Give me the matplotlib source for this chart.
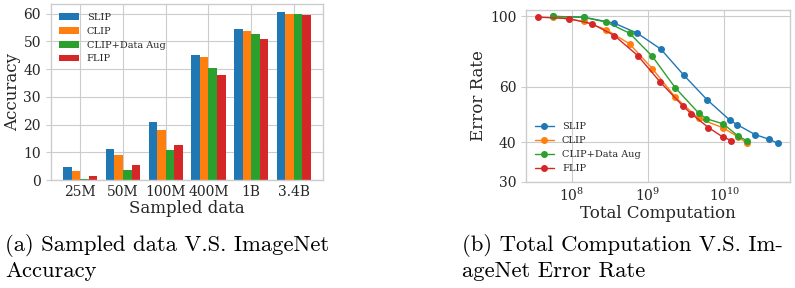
import matplotlib
matplotlib.use("Agg")
import matplotlib.pyplot as plt
import numpy as np
from matplotlib.ticker import FixedLocator, NullLocator, ScalarFormatter

# bar chart data (sampled data vs accuracy)
sizes = ["25M", "50M", "100M", "400M", "1B", "3.4B"]
acc_slip = [4.8, 11.3, 21.0, 45.0, 54.4, 60.5]
acc_clip = [3.4, 9.1, 18.1, 44.3, 53.7, 60.1]
acc_clip_aug = [0.5, 3.7, 10.9, 40.4, 52.6, 59.8]
acc_flip = [1.6, 5.3, 12.8, 37.8, 50.8, 59.4]

# compute vs error rate
slip_x = [5.7e7, 1.42e8, 3.6e8, 7.2e8, 1.47e9, 2.94e9, 5.9e9, 1.18e10, 1.47e10, 2.53e10, 3.85e10, 5.06e10]
slip_y = [100.0, 99.5, 95.2, 88.5, 78.8, 65.2, 54.6, 47.0, 45.5, 42.3, 40.9, 39.7]
clip_x = [5.7e7, 1.42e8, 2.82e8, 5.7e8, 1.14e9, 2.28e9, 4.6e9, 9.7e9, 1.51e10, 1.99e10]
clip_y = [99.8, 96.4, 90.8, 81.9, 68.3, 55.5, 47.6, 44.4, 41.6, 39.7]
aug_x = [5.7e7, 1.42e8, 2.82e8, 5.7e8, 1.14e9, 2.28e9, 4.6e9, 5.8e9, 9.7e9, 1.51e10, 1.99e10]
aug_y = [100.0, 99.3, 96.0, 88.5, 74.7, 59.4, 49.5, 47.5, 45.7, 41.9, 40.4]
flip_x = [3.58e7, 9.1e7, 1.83e8, 3.6e8, 7.3e8, 1.45e9, 2.9e9, 3.7e9, 6.2e9, 9.5e9, 1.24e10]
flip_y = [99.5, 98.4, 94.8, 87.0, 75.2, 61.9, 51.9, 49.2, 44.5, 41.6, 40.5]

labels = ["SLIP", "CLIP", "CLIP+Data Aug", "FLIP"]
colors = ["#1f77b4", "#ff7f0e", "#2ca02c", "#d62728"]

plt.style.use("seaborn-v0_8-whitegrid")
plt.rcParams["font.family"] = ["DejaVu Serif"]
plt.rcParams["text.color"] = ".15"
plt.rcParams["axes.labelcolor"] = ".15"
plt.rcParams["xtick.color"] = ".15"
plt.rcParams["ytick.color"] = ".15"

fig = plt.figure(figsize=(7.95, 2.88), dpi=100)

# (a) bars
ax1 = fig.add_axes([0.0638, 0.375, 0.343, 0.611])
x = np.arange(len(sizes))
w = 0.2
for i, (vals, lab, c) in enumerate(zip([acc_slip, acc_clip, acc_clip_aug, acc_flip], labels, colors)):
    ax1.bar(x + (i - 1.5) * w, vals, w, color=c, label=lab)
ax1.set_xticks(x)
ax1.set_xticklabels(sizes)
ax1.set_yticks(range(0, 61, 10))
ax1.tick_params(axis="both", labelsize=10)
ax1.tick_params(axis="y", length=3.5, width=0.8, color=".8")
ax1.tick_params(axis="x", length=0)
ax1.set_xlabel("Sampled data", fontsize=12, labelpad=1)
ax1.set_ylabel("Accuracy", fontsize=12, labelpad=2)
ax1.legend(loc="upper left", fontsize=7, frameon=False)

# (b) lines
ax2 = fig.add_axes([0.6616, 0.369, 0.332, 0.596])
for xs, ys, lab, c in zip([slip_x, clip_x, aug_x, flip_x], [slip_y, clip_y, aug_y, flip_y], labels, colors):
    ax2.plot(xs, ys, "-o", color=c, lw=1, ms=4, label=lab)
ax2.set_xscale("log")
ax2.set_yscale("log")
top = ax2.get_ylim()[1]
ax2.set_ylim(30, top)
ax2.yaxis.set_major_locator(FixedLocator([30, 40, 60, 100]))
ax2.yaxis.set_major_formatter(ScalarFormatter())
ax2.yaxis.set_minor_locator(NullLocator())
ax2.xaxis.set_minor_locator(NullLocator())
ax2.tick_params(axis="both", labelsize=10)
ax2.tick_params(axis="y", length=3.5, width=0.8, color=".8")
ax2.tick_params(axis="x", length=0)
ax2.set_xlabel("Total Computation", fontsize=12, labelpad=1)
ax2.set_ylabel("Error Rate", fontsize=12, labelpad=2)
ax2.legend(loc="lower left", fontsize=7, frameon=False)

# captions
cap = dict(family="cmr10", fontsize=16.3, color="black", va="baseline")
fig.text(0.006, 0.128, "(a) Sampled data V.S. ImageNet", **cap)
fig.text(0.006, 0.038, "Accuracy", **cap)
fig.text(0.581, 0.128, "(b) Total Computation V.S. Im-", **cap)
fig.text(0.581, 0.038, "ageNet Error Rate", **cap)

fig.savefig("out.png", dpi=100)
